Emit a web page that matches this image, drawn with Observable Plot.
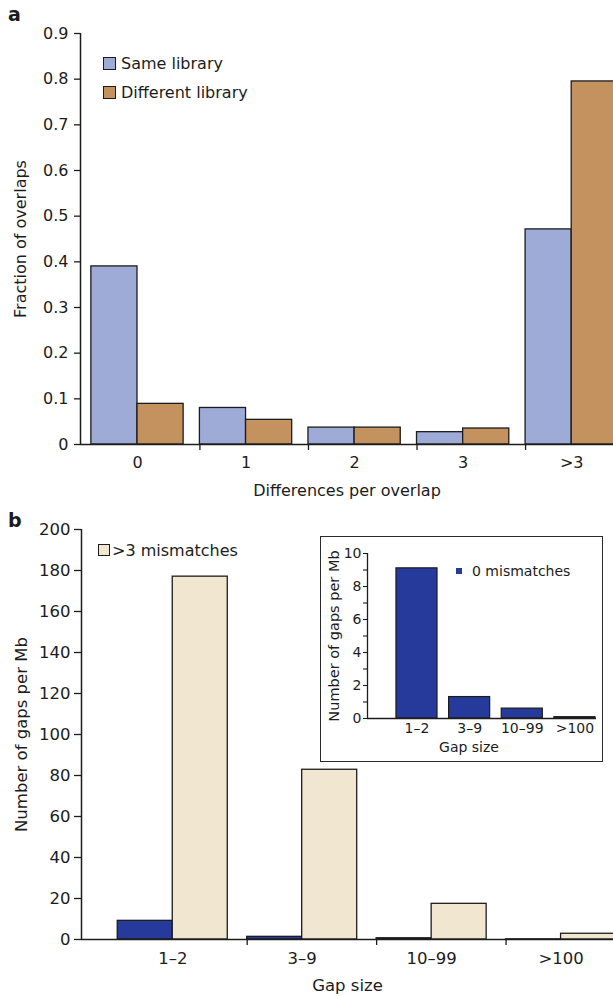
<!DOCTYPE html>
<html>
<head>
<meta charset="utf-8">
<script src="https://cdn.jsdelivr.net/npm/d3@7"></script>
<script src="https://cdn.jsdelivr.net/npm/@observablehq/plot@0.6"></script>
<style>
  html, body { margin: 0; padding: 0; background: #fff; overflow: hidden; }
  #wrap { position: relative; width: 613px; height: 996px; overflow: hidden; background: #fff;
          font-family: "DejaVu Sans", sans-serif; color: #1c1c1c; }
  .abs { position: absolute; }
  .panel-letter { font-weight: bold; font-size: 19px; line-height: 1; }
  .leg { position: absolute; display: flex; align-items: center; white-space: nowrap; }
  .sw { display: inline-block; box-sizing: border-box; border: 1.3px solid #1c1c1c; }
  #inset { position: absolute; left: 320px; top: 536px; width: 283px; height: 226px;
           box-sizing: border-box; border: 1.6px solid #2a2a2a; background: #fff; }
</style>
</head>
<body>
<div id="wrap"></div>
<script>
// ---------- Panel a data ----------
const diffCategories = ["0", "1", "2", "3", ">3"];
const libSeries = ["Same library", "Different library"];
const sameLibrary = [0.39, 0.08, 0.037, 0.027, 0.471];
const differentLibrary = [0.089, 0.054, 0.037, 0.035, 0.795];
const fractionTicks = [0, 0.1, 0.2, 0.3, 0.4, 0.5, 0.6, 0.7, 0.8, 0.9];
const fractionTickLabels = ["0", "0.1", "0.2", "0.3", "0.4", "0.5", "0.6", "0.7", "0.8", "0.9"];
const libColors = ["#9eabd7", "#c4925f"];

// ---------- Panel b data ----------
const gapCategories = ["1\u20132", "3\u20139", "10\u201399", ">100"];
const gapSeries = ["0 mismatches", ">3 mismatches"];
const gaps0Mismatch = [9.1, 1.3, 0.6, 0.08];
const gaps3Mismatch = [177, 82.8, 17.4, 2.8];
const gapTicks = [0, 20, 40, 60, 80, 100, 120, 140, 160, 180, 200];
const insetTicks = [0, 1, 2, 3, 4, 5, 6, 7, 8, 9, 10];
const gapColors = ["#263a9c", "#f1e6d0"];

// ---------- shared styling ----------
const INK = "#1c1c1c";
const FONT = "DejaVu Sans, sans-serif";
const BAR = 0.425;      // fraction of a category step taken by one bar (grouped panels)
const INSET_BAR = 0.78; // fraction of a category step taken by an inset bar

const wrap = document.getElementById("wrap");

function place(el, left, top) {
  el.style.position = "absolute";
  el.style.left = left + "px";
  el.style.top = top + "px";
  wrap.appendChild(el);
  return el;
}

// ================= Panel a =================
const rowsA = diffCategories.flatMap((cat, i) => [
  {cat, i, s: 0, series: libSeries[0], value: sameLibrary[i]},
  {cat, i, s: 1, series: libSeries[1], value: differentLibrary[i]}
]);
const xDomA = [-0.1, 4.81];

const plotA = Plot.plot({
  width: 613, height: 500,
  marginLeft: 80, marginRight: 0, marginTop: 33, marginBottom: 56,
  style: {fontFamily: FONT, fontSize: "16px", color: INK, background: "transparent"},
  x: {domain: xDomA, axis: null},
  y: {domain: [0, 0.9], axis: null},
  color: {domain: libSeries, range: libColors},
  marks: [
    Plot.rectY(rowsA, {
      x1: d => d.i + d.s * BAR, x2: d => d.i + (d.s + 1) * BAR,
      y1: 0, y2: "value", fill: "series", stroke: INK, strokeWidth: 1.3, clip: true
    }),
    Plot.ruleY([0], {stroke: INK, strokeWidth: 1.5}),
    Plot.ruleX([xDomA[0]], {stroke: INK, strokeWidth: 1.5}),
    Plot.axisY({ticks: fractionTicks, tickSize: 6, tickPadding: 6,
      tickFormat: d => fractionTickLabels[fractionTicks.indexOf(d)], label: null, strokeWidth: 1.3}),
    Plot.axisX({ticks: diffCategories.slice(1).map((c, k) => k + 1), tickSize: 6,
      tickFormat: () => "", label: null, strokeWidth: 1.3}),
    Plot.axisX({ticks: diffCategories.map((c, i) => i + BAR), tickSize: 0, tickPadding: 12,
      tickFormat: d => diffCategories[Math.round(d - BAR)], label: null}),
    Plot.text(["Differences per overlap"], {frameAnchor: "bottom", dy: 46, lineAnchor: "middle", fill: INK}),
    Plot.text(["Fraction of overlaps"], {frameAnchor: "left", dx: -60, rotate: -90,
      textAnchor: "middle", lineAnchor: "middle", fill: INK})
  ]
});
place(plotA, 0, 0);

// ================= Panel b =================
const rowsB = gapCategories.flatMap((cat, i) => [
  {cat, i, s: 0, series: gapSeries[0], value: gaps0Mismatch[i]},
  {cat, i, s: 1, series: gapSeries[1], value: gaps3Mismatch[i]}
]);
const xDomB = [-0.28, 3.83];

const plotB = Plot.plot({
  width: 613, height: 496,
  marginLeft: 81, marginRight: 0, marginTop: 29, marginBottom: 57,
  style: {fontFamily: FONT, fontSize: "16.5px", color: INK, background: "transparent"},
  x: {domain: xDomB, axis: null},
  y: {domain: [0, 200], axis: null},
  color: {domain: gapSeries, range: gapColors},
  marks: [
    Plot.rectY(rowsB, {
      x1: d => d.i + d.s * BAR, x2: d => d.i + (d.s + 1) * BAR,
      y1: 0, y2: "value", fill: "series", stroke: INK, strokeWidth: 1.3, clip: true
    }),
    Plot.ruleY([0], {stroke: INK, strokeWidth: 1.5}),
    Plot.ruleX([xDomB[0]], {stroke: INK, strokeWidth: 1.5}),
    Plot.axisY({ticks: gapTicks, tickSize: 7, tickPadding: 4, label: null, strokeWidth: 1.3}),
    Plot.axisX({ticks: gapCategories.slice(1).map((c, k) => k + 1), tickSize: 6,
      tickFormat: () => "", label: null, strokeWidth: 1.3}),
    Plot.axisX({ticks: gapCategories.map((c, i) => i + BAR), tickSize: 0, tickPadding: 13,
      tickFormat: d => gapCategories[Math.round(d - BAR)], label: null}),
    Plot.text(["Gap size"], {frameAnchor: "bottom", dy: 46, lineAnchor: "middle", fill: INK}),
    Plot.text(["Number of gaps per Mb"], {frameAnchor: "left", dx: -60, rotate: -90,
      textAnchor: "middle", lineAnchor: "middle", fill: INK})
  ]
});
place(plotB, 0, 500);

// ================= Inset (0 mismatches) =================
const inset = document.createElement("div");
inset.id = "inset";
wrap.appendChild(inset);

const rowsInset = gapCategories.map((cat, i) => ({cat, i, value: gaps0Mismatch[i]}));
const xDomInset = [-0.55, 3.8];
const plotInset = Plot.plot({
  width: 280, height: 223,
  marginLeft: 46, marginRight: 5, marginTop: 16, marginBottom: 42,
  style: {fontFamily: FONT, fontSize: "14px", color: INK, background: "transparent"},
  x: {domain: xDomInset, axis: null},
  y: {domain: [0, 10], axis: null},
  marks: [
    Plot.rectY(rowsInset, {x1: d => d.i, x2: d => d.i + INSET_BAR, y1: 0, y2: "value",
      fill: gapColors[0], stroke: INK, strokeWidth: 1.2}),
    Plot.ruleY([0], {stroke: INK, strokeWidth: 1.4}),
    Plot.ruleX([xDomInset[0]], {stroke: INK, strokeWidth: 1.3}),
    Plot.axisY({ticks: insetTicks, tickSize: 4, tickPadding: 2, label: null, strokeWidth: 1.1,
      tickFormat: d => (d % 2 === 0 ? String(d) : "")}),
    Plot.axisX({ticks: gapCategories.map((c, i) => i + INSET_BAR / 2), tickSize: 0, tickPadding: 5,
      tickFormat: d => gapCategories[Math.round(d - INSET_BAR / 2)], label: null}),
    Plot.text(["Gap size"], {frameAnchor: "bottom", dy: 29, dx: -13, lineAnchor: "middle", fill: INK}),
    Plot.text(["Number of gaps per Mb"], {frameAnchor: "left", dx: -33, rotate: -90,
      textAnchor: "middle", lineAnchor: "middle", fill: INK, fontSize: 14.5})
  ]
});
plotInset.style.position = "absolute";
plotInset.style.left = "0px";
plotInset.style.top = "0px";
inset.appendChild(plotInset);
</script>
<script>
// Panel letters and legends (real text)
(function () {
  const wrap = document.getElementById("wrap");
  function letter(txt, left, top) {
    const d = document.createElement("div");
    d.className = "panel-letter";
    d.textContent = txt;
    d.style.position = "absolute";
    d.style.left = left + "px";
    d.style.top = top + "px";
    wrap.appendChild(d);
  }
  letter("a", 8, 5);
  letter("b", 8, 511);

  function legendRow(left, top, fontSize, swSize, color, bordered, gap, name) {
    const row = document.createElement("div");
    row.className = "leg";
    row.style.left = left + "px";
    row.style.top = top + "px";
    row.style.fontSize = fontSize + "px";
    row.style.height = (fontSize + 2) + "px";
    const sw = document.createElement("span");
    if (bordered) sw.className = "sw";
    sw.style.display = "inline-block";
    sw.style.width = swSize + "px"; sw.style.height = swSize + "px";
    sw.style.background = color;
    sw.style.marginRight = gap + "px";
    const t = document.createElement("span");
    t.textContent = name;
    row.appendChild(sw); row.appendChild(t);
    wrap.appendChild(row);
  }
  // panel a legend
  libSeries.forEach((name, k) => legendRow(103, 54 + k * 29, 16, 13, libColors[k], true, 5, name));
  // panel b legend
  legendRow(98, 541, 16, 12, gapColors[1], true, 2, gapSeries[1]);
  // inset legend
  legendRow(456, 563, 14, 6, gapColors[0], false, 10, gapSeries[0]);
})();
</script>
</body>
</html>
